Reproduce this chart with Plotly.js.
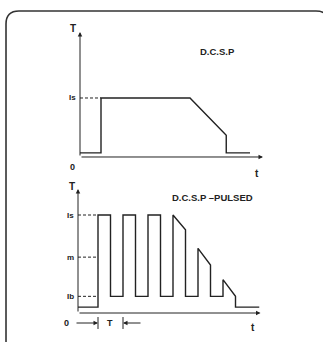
<!DOCTYPE html>
<html>
<head>
<meta charset="utf-8">
<script src="https://cdn.plot.ly/plotly-3.0.1.min.js"></script>
<style>html,body{margin:0;padding:0;background:#fff;}#chart{width:323px;height:342px;}</style>
</head>
<body>
<div id="chart"></div>
<script>
// ---- data ----
var topTitle = 'D.C.S.P';
var topT = [0, 1.68, 1.68, 8.8, 11.7, 11.7, 13.6];
var topI = [0.7, 0.7, 10, 10, 3.7, 0.7, 0.7];
var topLevelNames = ['Is'];
var topLevels = [10];
var topRiseT = 1.68;

var pulsedTitle = 'D.C.S.P \u2013PULSED';
var pulsedT = [0,1.6,1.6,2.6,2.6,3.6,3.6,4.6,4.6,5.6,5.6,6.6,6.6,7.6,7.6,8.6,8.6,9.6,9.6,10.6,10.6,11.6,11.6,12.6,12.6,14.5];
var pulsedI = [0.6,0.6,10,10,1.7,1.7,10,10,1.7,1.7,10,10,1.7,1.7,10,8.5,1.7,1.7,6.6,4.9,1.7,1.7,3.4,1.7,0.6,0.6];
var pulsedLevelNames = ['Is','m','Ib'];
var pulsedLevels = [10, 5.7, 1.7];
var pulsedRiseT = 1.6;
var periodStart = 1.6, periodEnd = 3.6;

// ---- drawing ----
var ink = '#222';
var FONT = 'Liberation Sans, Arial, sans-serif';
var traces = [];
traces.push({x: topT, y: topI, xaxis:'x', yaxis:'y', mode:'lines', line:{color:ink, width:1.4}, hoverinfo:'skip'});
topLevels.forEach(function(v){
  traces.push({x:[0, topRiseT], y:[v, v], xaxis:'x', yaxis:'y', mode:'lines', line:{color:ink, width:1, dash:'3px,2px'}, hoverinfo:'skip'});
});
traces.push({x: pulsedT, y: pulsedI, xaxis:'x2', yaxis:'y2', mode:'lines', line:{color:ink, width:1.4}, hoverinfo:'skip'});
pulsedLevels.forEach(function(v){
  traces.push({x:[0, pulsedRiseT], y:[v, v], xaxis:'x2', yaxis:'y2', mode:'lines', line:{color:ink, width:1, dash:'3px,2px'}, hoverinfo:'skip'});
});

function ax(range){ return {range:range, domain:[0,1], visible:false, fixedrange:true}; }

function px(x){ return x/323; }
function py(y){ return 1 - y/342; }

function lab(text, x, y, size, xanchor){
  return {text:text, x:px(x), y:py(y), xref:'paper', yref:'paper', showarrow:false,
    xanchor:xanchor||'center', yanchor:'middle', font:{family:FONT, size:size, color:ink, weight:'bold'}};
}
function arrow(xr, yr, x0, y0, x1, y1){
  return {x:x1, y:y1, ax:x0, ay:y0, xref:xr, yref:yr, axref:xr, ayref:yr, text:'', showarrow:true,
    arrowhead:2, arrowsize:0.9, arrowwidth:1, arrowcolor:ink};
}

var annotations = [
  // top axes
  arrow('x','y', 0, 0, 0, 21.2),
  arrow('x','y', 0, 0, 14.64, 0),
  lab('T', 73, 29, 10),
  lab('0', 72, 167, 9),
  lab('t', 257, 173, 10),
  lab(topTitle, 217, 51, 9.5),
  // bottom axes
  arrow('x2','y2', 0, 0, 0, 12.65),
  arrow('x2','y2', 0, 0, 14.6, 0),
  lab('T', 72, 186, 10),
  lab('0', 66, 323, 9),
  lab('t', 253, 327, 10),
  lab(pulsedTitle, 212, 197, 9.5),
  // period marker
  arrow('x2','y2', -0.24, -1.02, periodStart, -1.02),
  arrow('x2','y2', 5.12, -1.02, periodEnd, -1.02),
  {text:'T', x:(periodStart+periodEnd)/2 - 0.05, y:-1.02, xref:'x2', yref:'y2', showarrow:false,
    font:{family:FONT, size:9, color:ink, weight:'bold'}}
];
topLevelNames.forEach(function(n,i){
  annotations.push({text:n, x:0, y:topLevels[i], xref:'x', yref:'y', showarrow:false, xanchor:'right', xshift:-2,
    font:{family:FONT, size:8, color:ink, weight:'bold'}});
});
pulsedLevelNames.forEach(function(n,i){
  annotations.push({text:n, x:0, y:pulsedLevels[i], xref:'x2', yref:'y2', showarrow:false, xanchor:'right', xshift:-2,
    font:{family:FONT, size:8, color:ink, weight:'bold'}});
});

// border path (rounded box, cropped by image edges)
function P(x,y){ return px(x).toFixed(4)+','+py(y).toFixed(4); }
var border = 'M'+P(6,350)+' L'+P(6,335)+' Q'+P(6,348)+' '+P(6,335)+
  ' M'+P(6,345)+' L'+P(6,24)+' Q'+P(6,11)+' '+P(19,11)+' L'+P(316,11)+' Q'+P(329,11)+' '+P(329,24);

var shapes = [
  {type:'line', xref:'x2', yref:'y2', x0:periodStart, x1:periodStart, y0:-0.41, y1:-1.63, line:{color:ink, width:1}},
  {type:'line', xref:'x2', yref:'y2', x0:periodEnd, x1:periodEnd, y0:-0.41, y1:-1.63, line:{color:ink, width:1}},
  {type:'path', xref:'paper', yref:'paper', path:border, line:{color:'#333', width:1.6}}
];

var layout = {
  width:323, height:342, margin:{l:0,r:0,t:0,b:0}, showlegend:false,
  paper_bgcolor:'#fff', plot_bgcolor:'rgba(0,0,0,0)',
  xaxis: Object.assign(ax([-6.4, 19.44]), {anchor:'y'}),
  yaxis: Object.assign(ax([-31.36, 26.61]), {anchor:'x'}),
  xaxis2: Object.assign(ax([-6.24, 19.6]), {anchor:'y2'}),
  yaxis2: Object.assign(ax([-2.959, 31.94]), {anchor:'x2'}),
  annotations: annotations, shapes: shapes
};
Plotly.newPlot('chart', traces, layout, {staticPlot:true, displayModeBar:false});
</script>
</body>
</html>
